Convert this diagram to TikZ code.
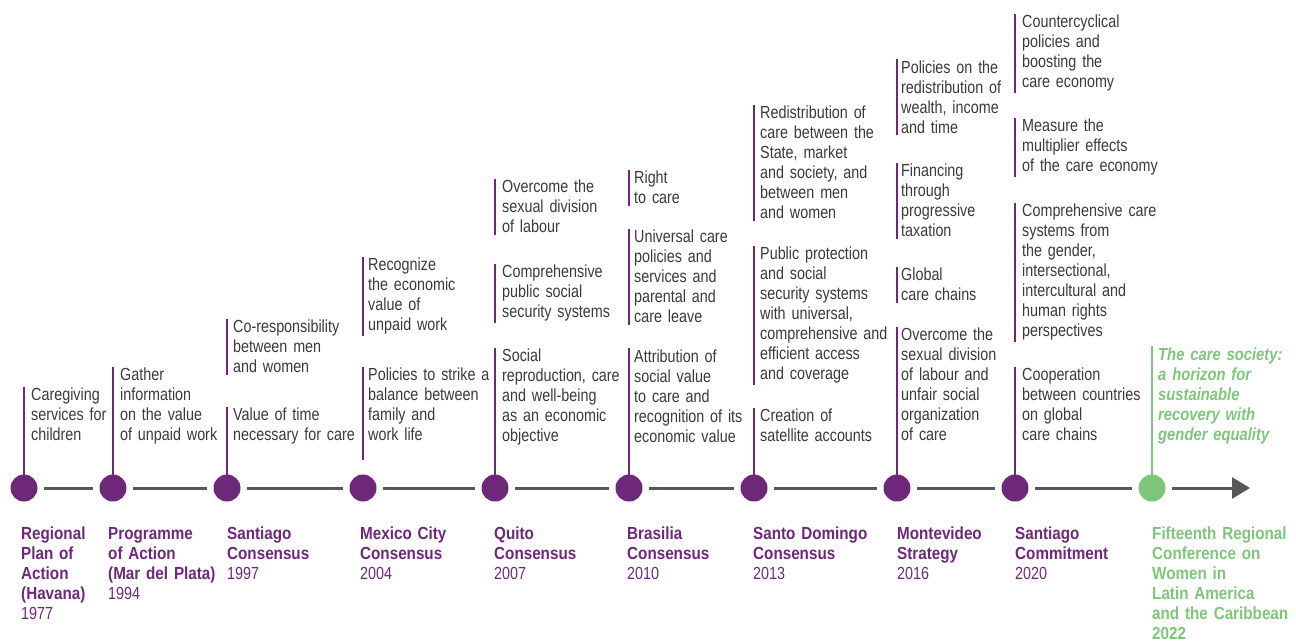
\documentclass[tikz,border=0pt]{standalone}
\usepackage{fontspec}
\setmainfont{Liberation Sans}[FakeStretch=0.82,BoldFeatures={FakeStretch=0.87},BoldItalicFeatures={FakeStretch=0.845}]
\usepackage{xcolor}
\usetikzlibrary{arrows.meta}
\definecolor{cpurple}{RGB}{110,40,122}
\definecolor{cgreen}{RGB}{125,198,122}
\definecolor{cgray}{RGB}{88,88,88}
\definecolor{ctext}{RGB}{58,58,58}
\tikzset{event/.style={circle,fill=cpurple,minimum size=27pt,inner sep=0pt,outer sep=0pt},
  note/.style={anchor=north west,align=left,text width=150pt,inner xsep=0pt,inner ysep=1.5pt,text=ctext,font=\fontsize{17.5}{20}\selectfont},
  lbl/.style={anchor=north west,align=left,text width=150pt,inner sep=0pt,text=cpurple,font=\fontsize{17.5}{20}\selectfont},
  stem/.style={draw=cpurple,line width=1.6pt},
  seg/.style={draw=cgray,line width=3pt,shorten <=6.5pt,shorten >=6.5pt}}

\begin{document}
\begin{tikzpicture}[x=1pt,y=-1pt]
        \useasboundingbox (0,0) rectangle (1296,641);

        \node[event] (a) at (24,488) {};
        \node[event] (b) at (113,488) {};
        \node[event] (c) at (227,488) {};
        \node[event] (d) at (363,488) {};
        \node[event] (e) at (495,488) {};
        \node[event] (f) at (629,488) {};
        \node[event] (g) at (754,488) {};
        \node[event] (h) at (897,488) {};
        \node[event] (i) at (1015,488) {};
        \node[event,fill=cgreen] (j) at (1152,488) {};
        \coordinate (tip) at (1250,488);
        \coordinate (dend) at (363,460);

        \draw [seg] (a) to (b);
        \draw [seg] (b) to (c);
        \draw [seg] (c) to (d);
        \draw [seg] (d) to (e);
        \draw [seg] (e) to (f);
        \draw [seg] (f) to (g);
        \draw [seg] (g) to (h);
        \draw [seg] (h) to (i);
        \draw [seg] (i) to (j);
        \draw [seg,shorten >=0pt,-{Triangle[length=18pt,width=21pt]}] (j) to (tip);

        \node[note] (a1) at (31,386.5) {Caregiving\\services for\\children};
        \node[note] (b1) at (120,366.5) {Gather\\information\\on the value\\of unpaid work};
        \node[note] (c1) at (233,318.5) {Co-responsibility\\between men\\and women};
        \node[note] (c2) at (233,406.5) {Value of time\\necessary for care};
        \node[note] (d1) at (368,256.5) {Recognize\\the economic\\value of\\unpaid work};
        \node[note] (d2) at (368,366.5) {Policies to strike a\\balance between\\family and\\work life};
        \node[note] (e1) at (502,178.5) {Overcome the\\sexual division\\of labour};
        \node[note] (e2) at (502,263.5) {Comprehensive\\public social\\security systems};
        \node[note] (e3) at (502,347.5) {Social\\reproduction, care\\and well-being\\as an economic\\objective};
        \node[note] (f1) at (634,169.5) {Right\\to care};
        \node[note] (f2) at (634,228.5) {Universal care\\policies and\\services and\\parental and\\care leave};
        \node[note] (f3) at (634,348) {Attribution of\\social value\\to care and\\recognition of its\\economic value};
        \node[note] (g1) at (760,104.5) {Redistribution of\\care between the\\State, market\\and society, and\\between men\\and women};
        \node[note] (g2) at (760,245.5) {Public protection\\and social\\security systems\\with universal,\\comprehensive and\\efficient access\\and coverage};
        \node[note] (g3) at (760,407.5) {Creation of\\satellite accounts};
        \node[note] (h1) at (901,59) {Policies on the\\redistribution of\\wealth, income\\and time};
        \node[note] (h2) at (901,162.5) {Financing\\through\\progressive\\taxation};
        \node[note] (h3) at (901,266.5) {Global\\care chains};
        \node[note] (h4) at (901,326.5) {Overcome the\\sexual division\\of labour and\\unfair social\\organization\\of care};
        \node[note] (i1) at (1022,13.5) {Countercyclical\\policies and\\boosting the\\care economy};
        \node[note] (i2) at (1022,117.5) {Measure the\\multiplier effects\\of the care economy};
        \node[note] (i3) at (1022,202.5) {Comprehensive care\\systems from\\the gender,\\intersectional,\\intercultural and\\human rights\\perspectives};
        \node[note] (i4) at (1022,366.5) {Cooperation\\between countries\\on global\\care chains};
        \node[note,text=cgreen] (j1) at (1158,346) {\textbf{\itshape The care society:\\a horizon for\\sustainable\\recovery with\\gender equality}};

        \draw [stem] (a) to (a |- a1.north);
        \draw [stem] (b) to (b |- b1.north);
        \draw [stem] (c |- c1.north) to (c |- c1.south);
        \draw [stem] (c) to (c |- c2.north);
        \draw [stem] (d |- d1.north) to (d |- d1.south);
        \draw [stem] (d |- d2.north) to (dend);
        \draw [stem] (e |- e1.north) to (e |- e1.south);
        \draw [stem] (e |- e2.north) to (e |- e2.south);
        \draw [stem] (e) to (e |- e3.north);
        \draw [stem] (f |- f1.north) to (f |- f1.south);
        \draw [stem] (f |- f2.north) to (f |- f2.south);
        \draw [stem] (f) to (f |- f3.north);
        \draw [stem] (g |- g1.north) to (g |- g1.south);
        \draw [stem] (g |- g2.north) to (g |- g2.south);
        \draw [stem] (g) to (g |- g3.north);
        \draw [stem] (h |- h1.north) to (h |- h1.south);
        \draw [stem] (h |- h2.north) to (h |- h2.south);
        \draw [stem] (h |- h3.north) to (h |- h3.south);
        \draw [stem] (h) to (h |- h4.north);
        \draw [stem] (i |- i1.north) to (i |- i1.south);
        \draw [stem] (i |- i2.north) to (i |- i2.south);
        \draw [stem] (i |- i3.north) to (i |- i3.south);
        \draw [stem] (i) to (i |- i4.north);
        \draw [stem,draw=cgreen] (j) to (j |- j1.north);

        \node[lbl] (a2) at (21,527) {\textbf{Regional\\Plan of\\Action\\(Havana)}\\1977};
        \node[lbl] (b2) at (108,527) {\textbf{Programme\\of Action\\(Mar del Plata)}\\1994};
        \node[lbl] (c3) at (227,527) {\textbf{Santiago\\Consensus}\\1997};
        \node[lbl] (d3) at (360,527) {\textbf{Mexico City\\Consensus}\\2004};
        \node[lbl] (e4) at (494,527) {\textbf{Quito\\Consensus}\\2007};
        \node[lbl] (f4) at (627,527) {\textbf{Brasilia\\Consensus}\\2010};
        \node[lbl] (g4) at (753,527) {\textbf{Santo Domingo\\Consensus}\\2013};
        \node[lbl] (h5) at (897,527) {\textbf{Montevideo\\Strategy}\\2016};
        \node[lbl] (i5) at (1015,527) {\textbf{Santiago\\Commitment}\\2020};
        \node[lbl,text=cgreen] (j2) at (1152,527) {\textbf{Fifteenth Regional\\Conference on\\Women in\\Latin America\\and the Caribbean\\2022}};
    \end{tikzpicture}
\end{document}
